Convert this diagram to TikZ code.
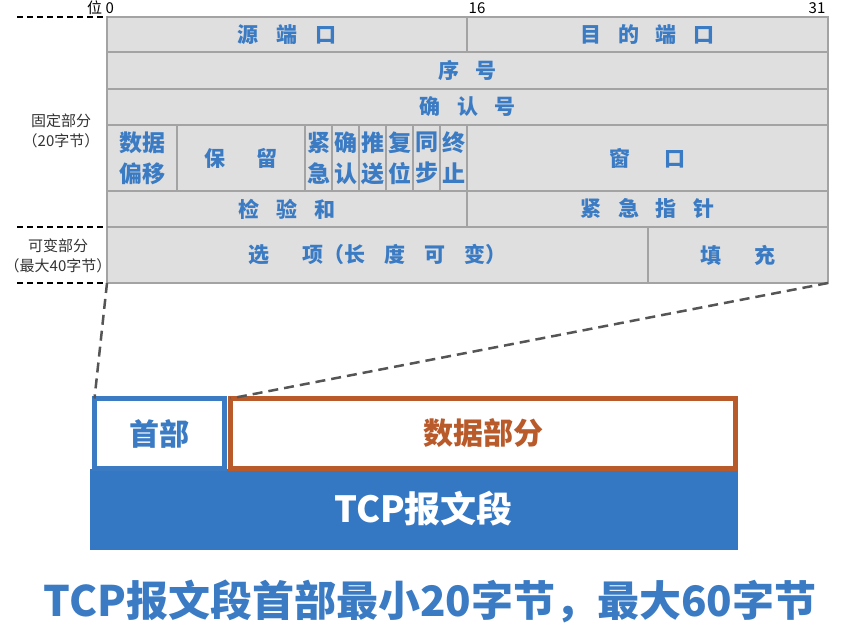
\documentclass[tikz,border=0pt]{standalone}
\usepackage{fontspec}
\setmainfont{Noto Sans CJK SC}
\definecolor{cellfill}{HTML}{DFDFDF}
\definecolor{cellline}{HTML}{A3A3A3}
\definecolor{tblue}{HTML}{3A7BC4}
\definecolor{barblue}{HTML}{3478C4}
\definecolor{dorange}{HTML}{B95A2A}
\definecolor{dgray}{HTML}{555555}
\newcommand\tfont{\fontsize{21}{26}\selectfont\bfseries}
\newcommand\ffont{\fontsize{23}{31}\selectfont\bfseries}
\newcommand\gp[1]{\hspace{#1em}}
\begin{document}
\begin{tikzpicture}[x=1pt,y=-1pt,
  cell/.style={draw=cellline, fill=cellfill, line width=1.2pt, inner sep=0pt, outer sep=0pt,
    anchor=north west, text=tblue, font=\tfont, align=center},
  flag/.style={cell, minimum width=27pt, minimum height=66pt, font=\ffont},
  sidelab/.style={font=\fontsize{15}{20}\selectfont, text=black!80, align=center, inner sep=0pt},
  toplab/.style={font=\fontsize{15}{17}\selectfont, text=black, inner sep=0pt},
  markline/.style={draw=black, line width=1.5pt, dash pattern=on 6pt off 4pt},
  zoomline/.style={draw=dgray, line width=2.5pt, dash pattern=on 10pt off 6pt},
]
\useasboundingbox (0,0) rectangle (850,626);

% table
\node[cell, minimum width=360pt, minimum height=35pt] (src) at (107,17) {源\gp{0.85}端\gp{0.85}口};
\node[cell, minimum width=361pt, minimum height=35pt] (dst) at (467,17) {目\gp{0.8}的\gp{0.8}端\gp{0.8}口};
\node[cell, minimum width=721pt, minimum height=37pt] (seq) at (107,52) {序\gp{0.8}号};
\node[cell, minimum width=721pt, minimum height=36pt] (ack) at (107,89) {确\gp{0.8}认\gp{0.8}号};
\node[cell, minimum width=70pt, minimum height=66pt, font=\ffont] (off) at (107,125) {数据\\偏移};
\node[cell, minimum width=128pt, minimum height=66pt] (res) at (177,125) {保\gp{1.5}留};
\node[flag] (f1) at (305,125) {紧\\急};
\node[flag] (f2) at (332,125) {确\\认};
\node[flag] (f3) at (359,125) {推\\送};
\node[flag] (f4) at (386,125) {复\\位};
\node[flag] (f5) at (413,125) {同\\步};
\node[flag] (f6) at (440,125) {终\\止};
\node[cell, minimum width=361pt, minimum height=66pt] (win) at (467,125) {窗\gp{1.6}口};
\node[cell, minimum width=360pt, minimum height=36pt] (chk) at (107,191) {检\gp{0.8}验\gp{0.8}和};
\node[cell, minimum width=361pt, minimum height=36pt] (urg) at (467,191) {紧\gp{0.8}急\gp{0.8}指\gp{0.8}针};
\node[cell, minimum width=541pt, minimum height=56pt] (opt) at (107,227) {选\gp{1.6}项（长\gp{0.9}度\gp{0.9}可\gp{0.9}变）};
\node[cell, minimum width=180pt, minimum height=56pt] (pad) at (648,227) {填\gp{1.6}充};

% top bit labels
\node[toplab, anchor=west] (bit0) at (87,8) {位 0};
\node[toplab] (bit16) at (477,8) {16};
\node[toplab] (bit31) at (817,8) {31};

% left markers
\coordinate (m1) at (17,17);
\coordinate (m2) at (17,227);
\coordinate (m3) at (17,283);
\draw[markline] (m1) -- (src.north west);
\draw[markline] (m2) -- (chk.south west);
\draw[markline] (m3) -- (opt.south west);
\node[sidelab] (fixlab) at (61,131) {固定部分\\（20字节）};
\node[sidelab] (varlab) at (58,256) {可变部分\\（最大40字节）};

% segment
\node[draw=barblue, fill=barblue, line width=0pt, inner sep=0pt, outer sep=0pt, anchor=north west,
  minimum width=647pt, minimum height=80pt, text=white,
  font=\fontsize{36}{40}\selectfont\bfseries] (bar) at (90,469) {\hspace*{20pt}TCP报文段};
\node[draw=tblue, fill=white, line width=4.5pt, inner sep=0pt, outer sep=0pt, anchor=north west,
  minimum width=130pt, minimum height=70pt, text=tblue,
  font=\fontsize{30}{34}\selectfont\bfseries] (hdr) at (94.5,398.5) {首部};
\node[draw=dorange, fill=white, line width=4.5pt, inner sep=0pt, outer sep=0pt, anchor=north west,
  minimum width=505pt, minimum height=70pt, text=dorange,
  font=\fontsize{30}{34}\selectfont\bfseries] (data) at (230.5,398.5) {数据部分};

% zoom lines
\draw[zoomline] (opt.south west) -- (hdr.north west);
\draw[zoomline] (pad.south east) -- (data.north west);

% title
\node[text=tblue, font=\fontsize{42}{46}\selectfont\bfseries, inner sep=0pt] (title) at (430,601)
  {TCP报文段首部最小20字节，最大60字节};
\end{tikzpicture}
\end{document}
